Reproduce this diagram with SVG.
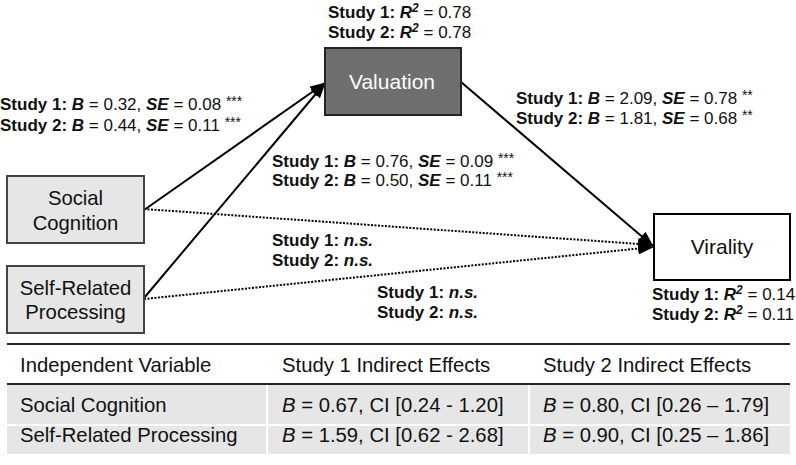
<svg xmlns="http://www.w3.org/2000/svg" width="796" height="465" viewBox="0 0 796 465">
<style>
text{font-family:"Liberation Sans",Arial,Helvetica,sans-serif;fill:#111}
.lbl{font-size:17px}
.b{font-weight:bold}
.bi{font-weight:bold;font-style:italic}
.i{font-style:italic}
.sup{font-size:12px}
.st{font-size:14px}
.node{font-size:20.3px;text-anchor:middle}
.node2{font-size:21px;text-anchor:middle}
.tbl{font-size:20.3px}
.solid{stroke:#000;stroke-width:2;fill:none}
.dot{stroke:#000;stroke-width:2;fill:none;stroke-dasharray:2 1.5}
</style>
<defs>
<marker id="ah" markerUnits="userSpaceOnUse" viewBox="0 0 16 12" markerWidth="16" markerHeight="12" refX="15" refY="6" orient="auto">
<path d="M0,0 L16,6 L0,12 Z" fill="#000"/>
</marker>
</defs>
<g id="connectors">
<line class="solid" x1="144" y1="210" x2="325" y2="83" marker-end="url(#ah)"/>
<line class="solid" x1="144" y1="298" x2="325" y2="83" marker-end="url(#ah)"/>
<line class="solid" x1="461" y1="82" x2="653" y2="246" marker-end="url(#ah)"/>
<line class="dot" x1="144" y1="209" x2="653" y2="245" marker-end="url(#ah)"/>
<line class="dot" x1="144" y1="299" x2="653" y2="247" marker-end="url(#ah)"/>
</g>
<g id="social-cognition">
<rect x="7" y="176" width="137" height="67" fill="#e6e6e6" stroke="#444" stroke-width="2"/>
<text class="node" x="75.5" y="205">Social</text>
<text class="node" x="75.5" y="230">Cognition</text>
</g>
<g id="self-related-processing">
<rect x="7" y="266" width="137" height="67" fill="#e6e6e6" stroke="#444" stroke-width="2"/>
<text class="node" x="75.5" y="295">Self-Related</text>
<text class="node" x="75.5" y="319">Processing</text>
</g>
<g id="valuation">
<rect x="325" y="48" width="136" height="67" fill="#6f6f6f" stroke="#222" stroke-width="2"/>
<text class="node2" x="392" y="89" style="fill:#fff">Valuation</text>
</g>
<g id="virality">
<rect x="654" y="214" width="136" height="66" fill="#fff" stroke="#000" stroke-width="2"/>
<text class="node2" x="722" y="254">Virality</text>
</g>
<g id="labels">
<text class="lbl" x="328" y="18"><tspan class="b">Study 1: </tspan><tspan class="bi">R</tspan><tspan class="bi sup" dy="-6">2</tspan><tspan dy="6"> = 0.78</tspan></text>
<text class="lbl" x="328" y="38"><tspan class="b">Study 2: </tspan><tspan class="bi">R</tspan><tspan class="bi sup" dy="-6">2</tspan><tspan dy="6"> = 0.78</tspan></text>
<text class="lbl" x="0" y="110"><tspan class="b">Study 1: </tspan><tspan class="bi">B</tspan> = 0.32, <tspan class="bi">SE</tspan> = 0.08 <tspan class="st" dy="-4">***</tspan></text>
<text class="lbl" x="0" y="131"><tspan class="b">Study 2: </tspan><tspan class="bi">B</tspan> = 0.44, <tspan class="bi">SE</tspan> = 0.11 <tspan class="st" dy="-4">***</tspan></text>
<text class="lbl" x="516" y="104"><tspan class="b">Study 1: </tspan><tspan class="bi">B</tspan> = 2.09, <tspan class="bi">SE</tspan> = 0.78 <tspan class="st" dy="-4">**</tspan></text>
<text class="lbl" x="516" y="124"><tspan class="b">Study 2: </tspan><tspan class="bi">B</tspan> = 1.81, <tspan class="bi">SE</tspan> = 0.68 <tspan class="st" dy="-4">**</tspan></text>
<text class="lbl" x="272" y="167"><tspan class="b">Study 1: </tspan><tspan class="bi">B</tspan> = 0.76, <tspan class="bi">SE</tspan> = 0.09 <tspan class="st" dy="-4">***</tspan></text>
<text class="lbl" x="272" y="186"><tspan class="b">Study 2: </tspan><tspan class="bi">B</tspan> = 0.50, <tspan class="bi">SE</tspan> = 0.11 <tspan class="st" dy="-4">***</tspan></text>
<text class="lbl" x="272" y="246"><tspan class="b">Study 1: </tspan><tspan class="bi">n.s.</tspan></text>
<text class="lbl" x="272" y="266"><tspan class="b">Study 2: </tspan><tspan class="bi">n.s.</tspan></text>
<text class="lbl" x="377" y="298"><tspan class="b">Study 1: </tspan><tspan class="bi">n.s.</tspan></text>
<text class="lbl" x="377" y="318"><tspan class="b">Study 2: </tspan><tspan class="bi">n.s.</tspan></text>
<text class="lbl" x="652" y="300"><tspan class="b">Study 1: </tspan><tspan class="bi">R</tspan><tspan class="bi sup" dy="-6">2</tspan><tspan dy="6"> = 0.14</tspan></text>
<text class="lbl" x="652" y="320"><tspan class="b">Study 2: </tspan><tspan class="bi">R</tspan><tspan class="bi sup" dy="-6">2</tspan><tspan dy="6"> = 0.11</tspan></text>
</g>
<g id="table">
<rect x="7" y="385" width="783" height="39" fill="#e6e6e6"/>
<rect x="7" y="426" width="783" height="28" fill="#e6e6e6"/>
<line x1="267" y1="385" x2="267" y2="454" stroke="#fff" stroke-width="2"/>
<line x1="529" y1="385" x2="529" y2="454" stroke="#fff" stroke-width="2"/>
<line x1="7" y1="425" x2="790" y2="425" stroke="#fff" stroke-width="2"/>
<line x1="7" y1="344" x2="790" y2="344" stroke="#222" stroke-width="2"/>
<line x1="7" y1="384" x2="790" y2="384" stroke="#222" stroke-width="2"/>
<text class="tbl" x="20" y="372">Independent Variable</text>
<text class="tbl" x="282" y="372">Study 1 Indirect Effects</text>
<text class="tbl" x="543" y="372">Study 2 Indirect Effects</text>
<text class="tbl" x="20" y="412">Social Cognition</text>
<text class="tbl" x="282" y="412"><tspan class="i">B</tspan> = 0.67, CI [0.24 - 1.20]</text>
<text class="tbl" x="543" y="412"><tspan class="i">B</tspan> = 0.80, CI [0.26 – 1.79]</text>
<text class="tbl" x="20" y="442">Self-Related Processing</text>
<text class="tbl" x="282" y="442"><tspan class="i">B</tspan> = 1.59, CI [0.62 - 2.68]</text>
<text class="tbl" x="543" y="442"><tspan class="i">B</tspan> = 0.90, CI [0.25 – 1.86]</text>
</g>
</svg>
